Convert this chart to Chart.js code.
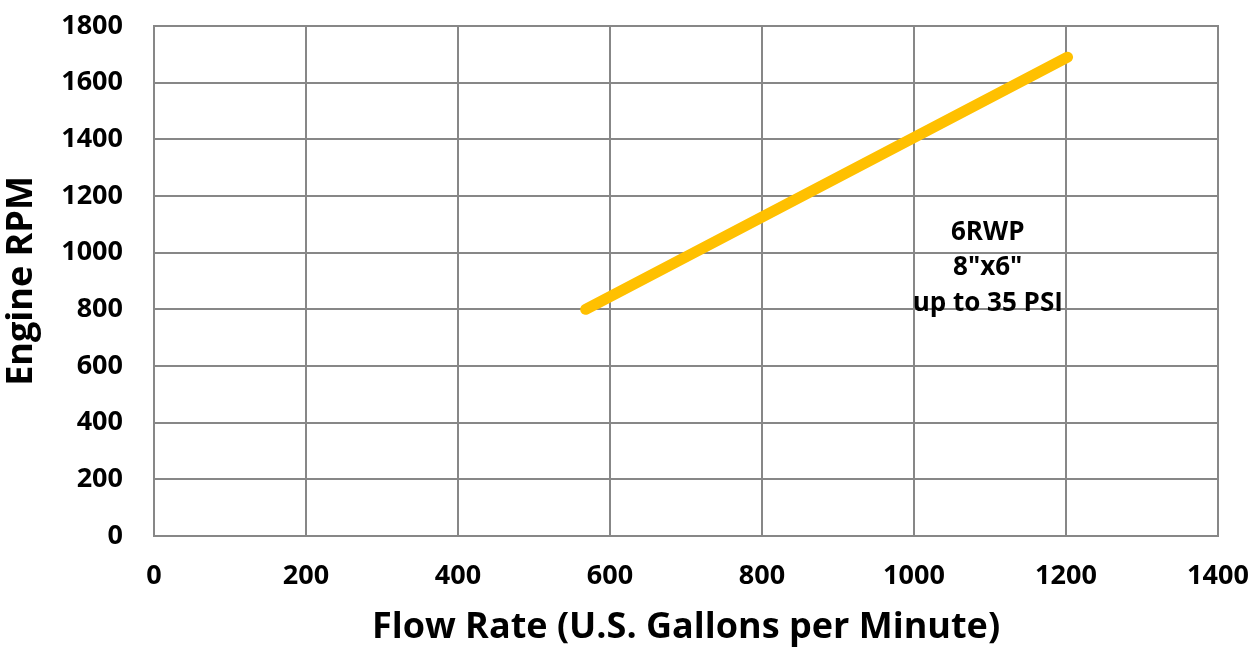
<!DOCTYPE html>
<html>
<head>
<meta charset="utf-8">
<script src="https://cdn.jsdelivr.net/npm/chart.js@4/dist/chart.umd.min.js"></script>
<style>
  html, body { margin: 0; padding: 0; background: #fff; }
  #wrap { width: 1259px; height: 649px; }
</style>
</head>
<body>
<div id="wrap"><canvas id="chart-rpm"></canvas></div>
<script>
// Data -------------------------------------
const flow_gpm = [568, 1202]
const engine_rpm = [800, 1690]
const x_ticks = [0, 200, 400, 600, 800, 1000, 1200, 1400]
const y_ticks = [0, 200, 400, 600, 800, 1000, 1200, 1400, 1600, 1800]
const note_lines = ['6RWP', '8"x6"', 'up to 35 PSI']
const note_at = { x: 1097, y: [1070, 946, 822] }

// Colors -------------------------------------
const color_line = '#FFC000'
const color_grid = '#878787'
const font_family = '"Open Sans", Lato, sans-serif'

// Plugin for the text label in the plot
const notePlugin = {
    id: 'note',
    afterDatasetsDraw(chart) {
        const ctx = chart.ctx
        const xs = chart.scales.x
        const ys = chart.scales.y
        ctx.save()
        ctx.font = 'bold 26px ' + font_family
        ctx.fillStyle = '#000'
        ctx.textAlign = 'center'
        ctx.textBaseline = 'middle'
        note_lines.forEach(function (t, i) {
            ctx.fillText(t, xs.getPixelForValue(note_at.x), ys.getPixelForValue(note_at.y[i]))
        })
        ctx.restore()
    }
}

// drop the extra space the scales ask for around their end labels
function noEdgePadding(scale) {
    scale.paddingTop = 0
    scale.paddingBottom = 0
    scale.paddingLeft = 0
    scale.paddingRight = 0
}

const config = {
    type: 'scatter',
    data: {
        datasets: [{
            label: '6RWP',
            data: flow_gpm.map(function (v, i) { return { x: v, y: engine_rpm[i] } }),
            showLine: true,
            borderColor: color_line,
            backgroundColor: color_line,
            borderWidth: 11,
            borderCapStyle: 'round',
            pointRadius: 0,
        }]
    },
    options: {
        responsive: false,
        animation: false,
        layout: { padding: { top: 26, right: 41, left: 0, bottom: 0 } },
        plugins: {
            legend: { display: false },
            tooltip: { enabled: false },
        },
        scales: {
            x: {
                type: 'linear',
                min: 0,
                max: 1400,
                afterBuildTicks: function (scale) {
                    scale.ticks = x_ticks.map(function (v) { return { value: v } })
                },
                afterFit: function (scale) {
                    scale.height = 113
                    noEdgePadding(scale)
                },
                grid: { color: color_grid, lineWidth: 2, drawTicks: false },
                border: { color: color_grid, width: 2 },
                ticks: {
                    color: '#000',
                    padding: 24,
                    callback: function (v) { return String(v) },
                    font: { family: font_family, size: 27, weight: 'bold' },
                },
                title: {
                    display: true,
                    text: 'Flow Rate (U.S. Gallons per Minute)',
                    color: '#000',
                    padding: { top: 19, bottom: 0 },
                    font: { family: font_family, size: 36, weight: 'bold' },
                },
            },
            y: {
                type: 'linear',
                min: 0,
                max: 1800,
                afterBuildTicks: function (scale) {
                    scale.ticks = y_ticks.map(function (v) { return { value: v } })
                },
                afterFit: function (scale) {
                    scale.width = 154
                    noEdgePadding(scale)
                },
                grid: { color: color_grid, lineWidth: 2, drawTicks: false },
                border: { color: color_grid, width: 2 },
                ticks: {
                    color: '#000',
                    padding: 31,
                    callback: function (v) { return String(v) },
                    font: { family: font_family, size: 27, weight: 'bold' },
                },
                title: {
                    display: true,
                    text: 'Engine RPM',
                    color: '#000',
                    padding: { top: 0, bottom: 2 },
                    font: { family: font_family, size: 36, weight: 'bold' },
                },
            },
        },
    },
    plugins: [notePlugin, {
        id: 'frame',
        afterDraw(chart) {
            // close the plot box on top and right
            const a = chart.chartArea
            const ctx = chart.ctx
            ctx.save()
            ctx.strokeStyle = color_grid
            ctx.lineWidth = 2
            ctx.strokeRect(a.left, a.top, a.right - a.left, a.bottom - a.top)
            ctx.restore()
        }
    }]
}

const canvas = document.getElementById('chart-rpm')
canvas.width = 1259
canvas.height = 649
const chart = new Chart(canvas.getContext('2d'), config)
</script>
</body>
</html>
